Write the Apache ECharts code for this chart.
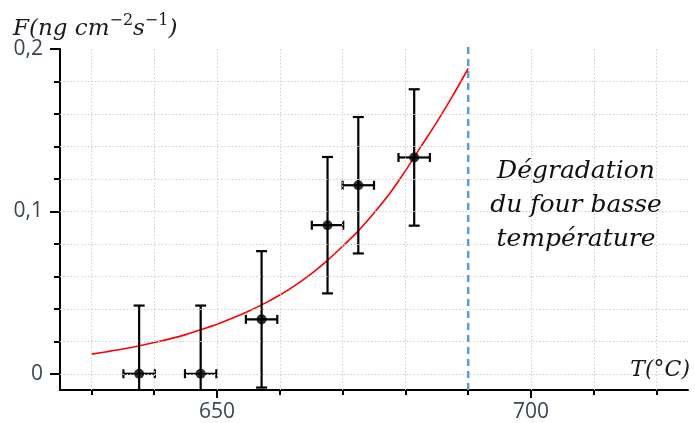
<!DOCTYPE html>
<html><head><meta charset="utf-8">
<script src="https://cdn.jsdelivr.net/npm/echarts@6/dist/echarts.min.js"></script>
<style>html,body{margin:0;padding:0;background:#fff}#c{width:695px;height:423px}</style>
</head><body><div id="c"></div>
<script>
// ---- data ----
const temps   = [637.6, 647.4, 657.1, 667.6, 672.5, 681.4];
const fluxes  = [0.0, 0.0, 0.0335, 0.0915, 0.1161, 0.1332];
const tempErr = [2.5, 2.5, 2.5, 2.5, 2.5, 2.5];
const fluxErr = [0.042, 0.042, 0.042, 0.042, 0.042, 0.042];
const curveT  = [630, 632.5, 635, 637.5, 640, 642.5, 645, 647.5, 650, 652.5, 655, 657.5, 660, 662.5, 665, 667.5, 670, 672.5, 675, 677.5, 680, 682.5, 685, 687.5, 690];
const curveF  = [0.0121, 0.0136, 0.0152, 0.0171, 0.0192, 0.0215, 0.0241, 0.0272, 0.0305, 0.0343, 0.0385, 0.0432, 0.0485, 0.0546, 0.0615, 0.0695, 0.0785, 0.088, 0.099, 0.111, 0.125, 0.140, 0.155, 0.171, 0.188];
const limitT  = 690;
const limitTop = 0.202;
const xMinorTicks = [630, 640, 650, 660, 670, 680, 690, 700, 710, 720];
const xMajorTicks = [650, 700];
const yMinorTicks = [0, 0.02, 0.04, 0.06, 0.08, 0.1, 0.12, 0.14, 0.16, 0.18, 0.2];
const yMajorTicks = [0, 0.1, 0.2];
const yGridVals   = [0, 0.02, 0.04, 0.06, 0.08, 0.1, 0.12, 0.14, 0.16, 0.18];
const annotation  = ['Dégradation', 'du four basse', 'température'];

const X_MIN = 625, X_MAX = 725, Y_MIN = -0.01, Y_MAX = 0.2;
const labelColor = '#3a4656';
const tickFont = 'Open Sans';
const serif = 'DejaVu Serif';

const chart = echarts.init(document.getElementById('c'), null, {renderer: 'canvas'});

const gridLineStyle = {color: '#cfcfcf', type: [1.5, 2], width: 1};
const gridMarks = [];
xMinorTicks.forEach(v => { if (v !== limitT) gridMarks.push({xAxis: v}); });
yGridVals.forEach(v => gridMarks.push({yAxis: v}));

const errData = temps.map((t, i) => [t, fluxes[i], tempErr[i], fluxErr[i]]);

const option = {
  animation: false,
  grid: {left: 60, right: 7, top: 49, bottom: 32, containLabel: false},
  xAxis: [{
    type: 'value', min: X_MIN, max: X_MAX, position: 'bottom',
    axisLine: {show: true, onZero: false, lineStyle: {color: '#000', width: 2}},
    axisTick: {show: true, inside: false, length: 5, lineStyle: {color: '#000', width: 2}, customValues: xMinorTicks},
    axisLabel: {show: true, margin: 12, fontFamily: tickFont, fontSize: 21, color: labelColor, customValues: xMajorTicks},
    splitLine: {show: false}
  }, {
    type: 'value', min: X_MIN, max: X_MAX, position: 'bottom',
    axisLine: {show: false, onZero: false},
    axisTick: {show: true, length: 8, lineStyle: {color: '#000', width: 2}, customValues: xMajorTicks},
    axisLabel: {show: false},
    splitLine: {show: false}
  }],
  yAxis: [{
    type: 'value', min: Y_MIN, max: Y_MAX, position: 'left',
    axisLine: {show: true, onZero: false, lineStyle: {color: '#000', width: 2}},
    axisTick: {show: true, length: 6, lineStyle: {color: '#000', width: 2}, customValues: yMinorTicks},
    axisLabel: {show: true, margin: 17, fontFamily: tickFont, fontSize: 21, color: labelColor,
      customValues: yMajorTicks, formatter: v => String(+v.toFixed(2)).replace('.', ',')},
    splitLine: {show: false}
  }, {
    type: 'value', min: Y_MIN, max: Y_MAX, position: 'left',
    axisLine: {show: false, onZero: false},
    axisTick: {show: true, length: 10, lineStyle: {color: '#000', width: 2}, customValues: yMajorTicks},
    axisLabel: {show: false},
    splitLine: {show: false}
  }],
  series: [{
    type: 'line', data: [], silent: true, z: 1,
    markLine: {silent: true, symbol: 'none', label: {show: false}, lineStyle: gridLineStyle, data: gridMarks, animation: false}
  }, {
    type: 'line', silent: true, z: 2, clip: false,
    data: [[limitT, Y_MIN], [limitT, limitTop]],
    showSymbol: false, symbol: 'none',
    lineStyle: {color: '#5b9bd5', width: 2.5, type: [7, 5]}
  }, {
    type: 'line', silent: true, z: 3,
    data: curveT.map((t, i) => [t, curveF[i]]),
    smooth: 0.3, showSymbol: false, symbol: 'none',
    lineStyle: {color: '#ff0000', width: 1.6}
  }, {
    type: 'custom', z: 4, silent: true,
    data: errData,
    renderItem: function (params, api) {
      const x = api.value(0), y = api.value(1), ex = api.value(2), ey = api.value(3);
      const lowRaw = y - ey;
      const low = Math.max(lowRaw, Y_MIN);
      const top = api.coord([x, y + ey]);
      const bot = api.coord([x, low]);
      const l = api.coord([x - ex, y]);
      const r = api.coord([x + ex, y]);
      const cap = 5.5;
      const st = {stroke: '#000', lineWidth: 2.2};
      const children = [
        {type: 'line', shape: {x1: top[0], y1: top[1], x2: bot[0], y2: bot[1]}, style: st},
        {type: 'line', shape: {x1: top[0] - cap, y1: top[1], x2: top[0] + cap, y2: top[1]}, style: st},
        {type: 'line', shape: {x1: l[0], y1: l[1], x2: r[0], y2: r[1]}, style: st},
        {type: 'line', shape: {x1: l[0], y1: l[1] - 4.5, x2: l[0], y2: l[1] + 4.5}, style: st},
        {type: 'line', shape: {x1: r[0], y1: r[1] - 4.5, x2: r[0], y2: r[1] + 4.5}, style: st}
      ];
      if (lowRaw >= Y_MIN) {
        children.push({type: 'line', shape: {x1: bot[0] - cap, y1: bot[1], x2: bot[0] + cap, y2: bot[1]}, style: st});
      }
      return {type: 'group', children: children};
    }
  }, {
    type: 'scatter', z: 5, silent: true,
    data: temps.map((t, i) => [t, fluxes[i]]),
    symbol: 'circle', symbolSize: 10,
    itemStyle: {color: '#000'}
  }],
  graphic: [{
    type: 'text', x: 13, y: 27, z: 10,
    style: {
      text: '{i|F(ng cm}{s|−2}{i|s}{s|−1}{i|)}',
      textVerticalAlign: 'middle',
      rich: {
        i: {fontFamily: serif, fontStyle: 'italic', fontSize: 23, fill: '#1a1a1a', color: '#1a1a1a', lineHeight: 28, verticalAlign: 'bottom'},
        s: {fontFamily: serif, fontSize: 16, fill: '#1a1a1a', color: '#1a1a1a', lineHeight: 28, verticalAlign: 'top'}
      }
    }
  }, {
    type: 'text', x: 690, y: 370, z: 10,
    style: {text: 'T(°C)', textAlign: 'right', textVerticalAlign: 'middle',
      fontFamily: serif, fontStyle: 'italic', fontSize: 22, fill: '#1a1a1a'}
  }, {
    type: 'text', x: 576, y: 205, z: 10,
    style: {text: annotation.join('\n'), textAlign: 'center', textVerticalAlign: 'middle', lineHeight: 34,
      fontFamily: serif, fontStyle: 'italic', fontSize: 25, fill: '#111'}
  }]
};
chart.setOption(option);
</script></body></html>
